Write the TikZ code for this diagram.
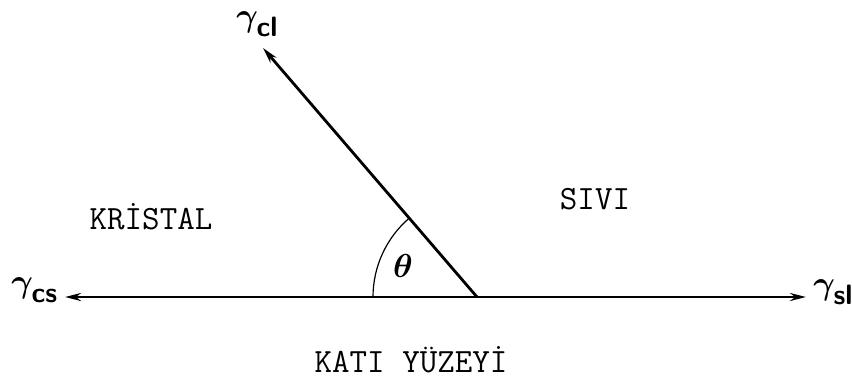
\documentclass[tikz,border=0pt]{standalone}
\usepackage{amsmath,amssymb,bm}
\usepackage{fontspec}
\usetikzlibrary{arrows.meta}
\newcommand{\gten}[1]{\raisebox{0.2em}{$\bm{\gamma}$}\kern-1pt{\fontsize{21}{24}\selectfont\sffamily\bfseries #1}}
\begin{document}
\begin{tikzpicture}[x=0.75pt,y=-0.75pt,every node/.style={font=\fontsize{25.5}{28}\selectfont\ttfamily,inner sep=1pt},
	vec/.style={line width=2.1pt,-{Stealth[length=12pt,width=6pt]}},
	glab/.style={font=\fontsize{34}{36}\selectfont,inner sep=0pt,anchor=base west}]
	\clip (0,0) rectangle (852,379);
	\coordinate (O) at (477,297);
	\coordinate (tcs) at (65,297);
	\coordinate (tsl) at (806,297);
	\coordinate (tcl) at (263,48);
	\draw[vec] (O) -- (tcs);
	\draw[vec] (O) -- (tsl);
	\draw[vec] (O) -- (tcl);
	\draw[line width=0.9pt] (O) ++(-104,0) arc[start angle=180, end angle=130.7, radius=78pt];
	\node[glab] (gcs) at (11,302) {\gten{cs}};
	\node[glab] (gsl) at (813,304) {\gten{sl}};
	\node[glab] (gcl) at (236,36) {\gten{cl}};
	\node (th) at (403,266) {\fontsize{29}{30}\selectfont$\bm{\theta}$};
	\node (kr) at (151,217) {KR\.ISTAL};
	\node (sv) at (595,199) {SIVI};
	\node (ky) at (411,360) {KATI Y\"UZEY\.I};
\end{tikzpicture}
\end{document}
